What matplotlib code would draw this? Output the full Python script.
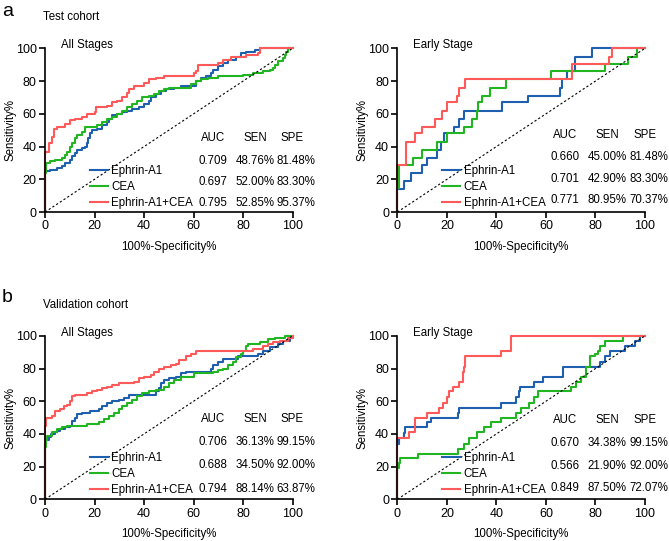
import matplotlib
matplotlib.use("Agg")
import matplotlib.pyplot as plt

plt.rcParams['font.family'] = ['Liberation Sans', 'DejaVu Sans']

series_names = ['Ephrin-A1', 'CEA', 'Ephrin-A1+CEA']
colors = ['#1f5fb0', '#22b522', '#ff5a5a']

# Test cohort, all stages  (x = 100%-specificity, y = sensitivity)
a_all_ephrin_x = [0, 0, 2, 5, 7, 8, 10, 11, 12, 13, 15, 16, 17, 17.5, 18, 19, 21, 23, 25, 26, 27, 29, 31, 33, 35, 38,
                  40, 42, 43, 45, 47, 49, 52, 55, 61, 63, 65, 67, 68, 70, 72, 74, 77, 79, 81, 85, 87, 100]
a_all_ephrin_y = [0, 25, 26, 27, 28, 30, 32, 34, 36, 38, 39, 40, 42, 45, 48, 50, 51, 53, 55, 57, 59, 60, 61, 62, 63, 64,
                  66, 68, 70, 72, 74, 75, 76, 77, 80, 82, 83, 85, 87, 89, 91, 93, 95, 97, 98, 99, 100, 100]
a_all_cea_x = [0, 0, 0.5, 2, 4, 7, 8, 9, 10, 11, 12, 13, 15, 16, 21, 23, 25, 27, 29, 31, 33, 35, 37, 39, 42, 44, 46, 48,
               50, 59, 61, 63, 66, 70, 80, 84, 88, 91, 92, 93, 94, 96, 97, 97.5, 98, 100]
a_all_cea_y = [0, 24, 30, 31, 32, 33, 35, 37, 40, 42, 45, 47, 49, 52, 53, 55, 57, 58, 60, 62, 64, 66, 68, 70, 71, 72, 74,
               75, 76, 78, 80, 81, 82, 83, 84, 85, 86, 87, 88, 90, 92, 94, 96, 98, 100, 100]
a_all_comb_x = [0, 0, 1.5, 3, 3.5, 5, 8, 10, 12, 15, 17, 20, 20.5, 25, 27, 29, 31, 33, 34, 36, 40, 42, 45, 48, 60, 61, 62,
                70, 72, 75, 81, 86, 87, 100]
a_all_comb_y = [0, 37, 42, 46, 51, 52, 54, 56, 57, 58, 60, 61, 64, 65, 67, 68, 70, 73, 75, 77, 79, 81, 82, 83, 85, 86, 90,
                91, 93, 95, 96, 97, 100, 100]

# Test cohort, early stage
a_early_ephrin_x = [0, 0, 2.7, 5.4, 10.1, 12, 16.2, 17.5, 18.9, 22.9, 24.9, 26.9, 42.4, 52.6, 65.8, 66.4, 68.5, 71.9,
                    78.6, 100]
a_early_ephrin_y = [0, 14, 19, 24, 29, 33, 38, 43, 48, 52, 57, 62, 67, 71, 76, 81, 86, 95, 100, 100]
a_early_cea_x = [0, 0, 0.8, 6.5, 10, 16, 20, 27, 30, 32, 32.7, 34, 37.5, 44, 62, 84, 93, 97, 100]
a_early_cea_y = [0, 15, 29, 33, 38, 43, 48, 52, 57, 62, 67, 71, 76, 81, 86, 90.5, 95, 100, 100]
a_early_comb_x = [0, 0, 3.5, 7, 10, 15, 18, 20, 24, 25, 27.5, 70.5, 85.3, 86.7, 100]
a_early_comb_y = [0, 29, 43, 48, 52, 57, 62, 67, 71, 76, 81, 90.5, 95, 100, 100]

# Validation cohort, all stages
b_all_ephrin_x = [0, 0, 0.5, 1.5, 2.5, 4, 5, 6, 8, 10, 11, 12, 13, 15, 18, 22, 23, 25, 27, 30, 32, 34, 45, 46, 47, 48,
                  50, 53, 55, 57, 67, 68, 70, 72, 78, 86, 88, 91, 94, 96, 99, 100]
b_all_ephrin_y = [0, 34, 36, 38, 40, 41, 42, 43, 44, 45, 48, 50, 52, 53, 54, 55, 57, 59, 60, 61, 62, 64, 66, 68, 71, 73,
                  74, 75, 77, 78, 80, 82, 84, 86, 88, 89, 91, 93, 95, 97, 99, 100]
b_all_cea_x = [0, 0, 0.5, 1, 3, 5, 7, 9, 17, 22, 24, 26, 28, 30, 31, 33, 35, 37, 39, 42, 45, 48, 50, 52, 55, 60, 68, 70,
               72, 74, 76, 77, 79, 80, 81, 82, 87, 90, 93, 97, 100]
b_all_cea_y = [0, 32, 36, 39, 41, 43, 44, 45, 46, 47, 49, 51, 53, 55, 57, 59, 61, 63, 65, 66, 67, 69, 71, 73, 75, 77, 78,
               79, 80, 82, 84, 87, 89, 91, 94, 95, 96, 98, 99, 100, 100]
b_all_comb_x = [0, 0, 0.5, 3, 4, 6, 7.5, 9, 10, 11, 12, 17, 19, 21, 23, 25, 27, 30, 36, 38, 40, 43, 44, 46, 48, 51, 53,
                54, 57, 59, 61, 84, 88, 90, 92, 95, 98, 100]
b_all_comb_y = [0, 45, 50, 51, 54, 55, 57, 58, 60, 63, 64, 65, 66, 67, 68, 69, 70, 71, 72, 74, 75, 76, 78, 80, 81, 82, 83,
                85, 88, 89, 91, 92, 94, 95, 96, 97, 99, 100]

# Validation cohort, early stage
b_early_ephrin_x = [0, 0, 0.5, 2.5, 3, 12, 13.5, 24.5, 25, 42, 48, 49, 49.5, 55, 59, 67, 82, 84, 86, 92, 96, 98, 100]
b_early_ephrin_y = [0, 34, 37.5, 40.5, 44, 47, 50, 53, 56, 59, 62.5, 66, 69, 72, 75, 81, 84, 87.5, 90.5, 94, 97, 100, 100]
b_early_cea_x = [0, 0, 0.5, 1, 8.5, 24.5, 27, 29, 32, 35, 38, 42, 48, 50, 53, 55, 57, 70, 72, 74, 76, 78, 78.3, 80,
                 81, 82, 84, 91, 100]
b_early_cea_y = [0, 19, 22, 25, 28, 31, 34, 37.5, 41, 44, 47, 50, 53, 56, 59, 62.5, 66, 69, 72, 75, 81, 87.5, 88, 89,
                 90.5, 94, 97, 100, 100]
b_early_comb_x = [0, 0, 4.5, 7, 12, 17, 18.5, 20, 21, 22.5, 25, 26.5, 27, 27.5, 42, 46, 100]
b_early_comb_y = [0, 37.5, 41, 50, 53, 56, 59, 62.5, 66, 69, 72, 78, 81, 87.5, 90.6, 100, 100]

auc = [['0.709', '0.697', '0.795'], ['0.660', '0.701', '0.771'],
       ['0.706', '0.688', '0.794'], ['0.670', '0.566', '0.849']]
sen = [['48.76%', '52.00%', '52.85%'], ['45.00%', '42.90%', '80.95%'],
       ['36.13%', '34.50%', '88.14%'], ['34.38%', '21.90%', '87.50%']]
spe = [['81.48%', '83.30%', '95.37%'], ['81.48%', '83.30%', '70.37%'],
       ['99.15%', '92.00%', '63.87%'], ['99.15%', '92.00%', '72.07%']]

panels = [
    ('All Stages', [(a_all_ephrin_x, a_all_ephrin_y), (a_all_cea_x, a_all_cea_y), (a_all_comb_x, a_all_comb_y)]),
    ('Early Stage', [(a_early_ephrin_x, a_early_ephrin_y), (a_early_cea_x, a_early_cea_y), (a_early_comb_x, a_early_comb_y)]),
    ('All Stages', [(b_all_ephrin_x, b_all_ephrin_y), (b_all_cea_x, b_all_cea_y), (b_all_comb_x, b_all_comb_y)]),
    ('Early Stage', [(b_early_ephrin_x, b_early_ephrin_y), (b_early_cea_x, b_early_cea_y), (b_early_comb_x, b_early_comb_y)]),
]

fig = plt.figure(figsize=(6.69, 5.41), dpi=100)
positions = [[0.0673, 0.608, 0.370, 0.3026], [0.594, 0.608, 0.370, 0.3026],
             [0.0673, 0.0771, 0.370, 0.302], [0.594, 0.0771, 0.370, 0.302]]
table_rows = [[0.452, 0.312, 0.183, 0.055], [0.47, 0.336, 0.20, 0.073],
              [0.49, 0.353, 0.21, 0.062], [0.486, 0.345, 0.205, 0.07]]

for i, (title, curves) in enumerate(panels):
    ax = fig.add_axes(positions[i])
    for (xs, ys), c, name in zip(curves, colors, series_names):
        ax.plot(xs, ys, drawstyle='steps-post', color=c, lw=1.5, label=name, clip_on=False)
    ax.plot([0, 100], [0, 100], color='black', lw=0.8, ls=(0, (2, 2)))
    ax.set_xlim(0, 100)
    ax.set_ylim(0, 100)
    ax.set_xticks([0, 20, 40, 60, 80, 100])
    ax.set_yticks([0, 20, 40, 60, 80, 100])
    for s in ['top', 'right']:
        ax.spines[s].set_visible(False)
    for s in ['left', 'bottom']:
        ax.spines[s].set_linewidth(1.2)
    ax.tick_params(direction='out', length=4, width=1.2, labelsize=9, pad=2)
    ax.set_xlabel('100%-Specificity%', fontsize=8.3, labelpad=6)
    ax.set_ylabel('Sensitivity%', fontsize=8.3, labelpad=-0.5)
    ax.text(0.065, 1.02, title, transform=ax.transAxes, fontsize=8.3, va='center', ha='left')
    ax.legend(loc='lower left', bbox_to_anchor=(0.18, 0.02), frameon=False, fontsize=8.3,
              handlelength=1.6, handletextpad=0.3, labelspacing=0.35, borderpad=0, borderaxespad=0)

    ty = table_rows[i]
    for xpos, head in zip([0.678, 0.848, 1.0], ['AUC', 'SEN', 'SPE']):
        ax.text(xpos, ty[0], head, transform=ax.transAxes, fontsize=8.3, ha='center', va='center')
    for r in range(3):
        ax.text(0.678, ty[r + 1], auc[i][r], transform=ax.transAxes, fontsize=8.3, ha='center', va='center')
        ax.text(0.848, ty[r + 1], sen[i][r], transform=ax.transAxes, fontsize=8.3, ha='center', va='center')
        ax.text(1.015, ty[r + 1], spe[i][r], transform=ax.transAxes, fontsize=8.3, ha='center', va='center')

fig.text(2 / 669, 1 - 12 / 541, 'a', fontsize=14, ha='left', va='center')
fig.text(43 / 669, 1 - 17 / 541, 'Test cohort', fontsize=8.3, ha='left', va='center')
fig.text(2 / 669, 1 - 298 / 541, 'b', fontsize=14, ha='left', va='center')
fig.text(43 / 669, 1 - 305 / 541, 'Validation cohort', fontsize=8.3, ha='left', va='center')

fig.savefig('out.png', dpi=100)
